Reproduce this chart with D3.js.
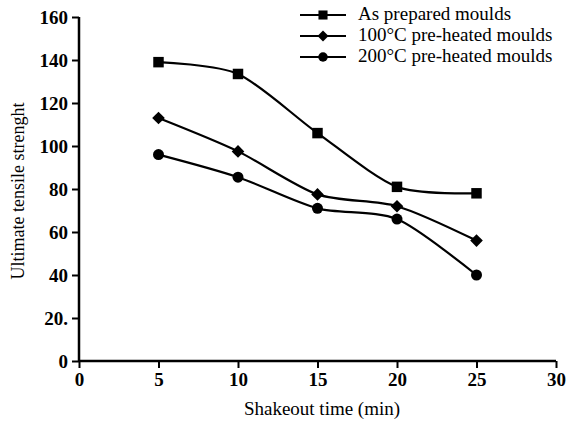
<!DOCTYPE html>
<html>
<head>
<meta charset="utf-8">
<script src="https://cdn.jsdelivr.net/npm/d3@7"></script>
<style>
  body { margin: 0; background: #fff; }
</style>
</head>
<body>
<div id="chart"></div>
<script>
// dados
const shakeout = [5, 10, 15, 20, 25];
const asPrepared = [139, 133.5, 106, 81, 78];
const heated100 = [113, 97.5, 77.5, 72, 56];
const heated200 = [96, 85.5, 71, 66, 40];
const seriesNames = ["As prepared moulds", "100°C pre-heated moulds", "200°C pre-heated moulds"];
const yTickLabels = ["0", "20.", "40", "60", "80", "100", "120", "140", "160"];

const FONT = "'Liberation Serif', 'Times New Roman', Times, 'DejaVu Serif', serif";

const W = 571, H = 430;

const svg = d3.select("#chart").append("svg")
  .attr("width", W)
  .attr("height", H)
  .attr("font-family", FONT);

const x = d3.scaleLinear().domain([0, 30]).range([79, 556]);
const y = d3.scaleLinear().domain([0, 160]).range([361, 17]);

// eixos
const xAxis = d3.axisBottom(x).tickValues([0, 5, 10, 15, 20, 25, 30]).tickSize(7).tickPadding(5);
const yAxis = d3.axisLeft(y).tickValues(d3.range(0, 161, 20))
  .tickFormat((d, i) => yTickLabels[i]).tickSize(7).tickPadding(4);

const gx = svg.append("g").attr("transform", `translate(0,${y(0)})`).call(xAxis);
const gy = svg.append("g").attr("transform", `translate(${x(0)},0)`).call(yAxis);

[gx, gy].forEach(g => {
  g.attr("font-family", FONT);
  g.select(".domain").attr("stroke", "#000").attr("stroke-width", 2.5);
  g.selectAll(".tick line").attr("stroke", "#000").attr("stroke-width", 2);
  g.selectAll(".tick text")
    .attr("fill", "#000")
    .attr("font-family", FONT)
    .attr("font-size", 19)
    .attr("font-weight", "bold");
});
gx.select(".domain").attr("d", `M${x(0)},0H${x(30)}`);
gy.select(".domain").attr("d", `M0,${y(0)}V${y(160)}`);

// rótulos dos eixos
svg.append("text")
  .attr("x", 322)
  .attr("y", 415)
  .attr("text-anchor", "middle")
  .attr("font-family", FONT)
  .attr("font-size", 19)
  .text("Shakeout time (min)");

svg.append("text")
  .attr("transform", `translate(24,191) rotate(-90)`)
  .attr("text-anchor", "middle")
  .attr("font-family", FONT)
  .attr("font-size", 18)
  .text("Ultimate tensile strenght");

// séries
const series = [
  { name: seriesNames[0], values: asPrepared, shape: d3.symbolSquare, size: 110, rot: 0 },
  { name: seriesNames[1], values: heated100, shape: d3.symbolSquare, size: 80, rot: 45 },
  { name: seriesNames[2], values: heated200, shape: d3.symbolCircle, size: 95, rot: 0 }
];

const line = d3.line()
  .x((d, i) => x(shakeout[i]))
  .y(d => y(d))
  .curve(d3.curveCardinal.tension(0.2));

series.forEach(s => {
  svg.append("path")
    .datum(s.values)
    .attr("fill", "none")
    .attr("stroke", "#000")
    .attr("stroke-width", 2.2)
    .attr("d", line);

  svg.selectAll(null)
    .data(s.values)
    .enter()
    .append("path")
    .attr("transform", (d, i) => `translate(${x(shakeout[i])},${y(d)}) rotate(${s.rot})`)
    .attr("d", d3.symbol().type(s.shape).size(s.size))
    .attr("fill", "#000");
});

// legenda
const legend = svg.append("g").attr("transform", "translate(300,15)");
series.forEach((s, i) => {
  const g = legend.append("g").attr("transform", `translate(0,${i * 21})`);
  g.append("line")
    .attr("x1", 0).attr("x2", 46)
    .attr("y1", 0).attr("y2", 0)
    .attr("stroke", "#000").attr("stroke-width", 2.2);
  g.append("path")
    .attr("transform", `translate(23,0) rotate(${s.rot})`)
    .attr("d", d3.symbol().type(s.shape).size(s.size * 0.75))
    .attr("fill", "#000");
  g.append("text")
    .attr("x", 58)
    .attr("y", 5)
    .attr("font-family", FONT)
    .attr("font-size", 19)
    .text(s.name);
});
</script>
</body>
</html>
